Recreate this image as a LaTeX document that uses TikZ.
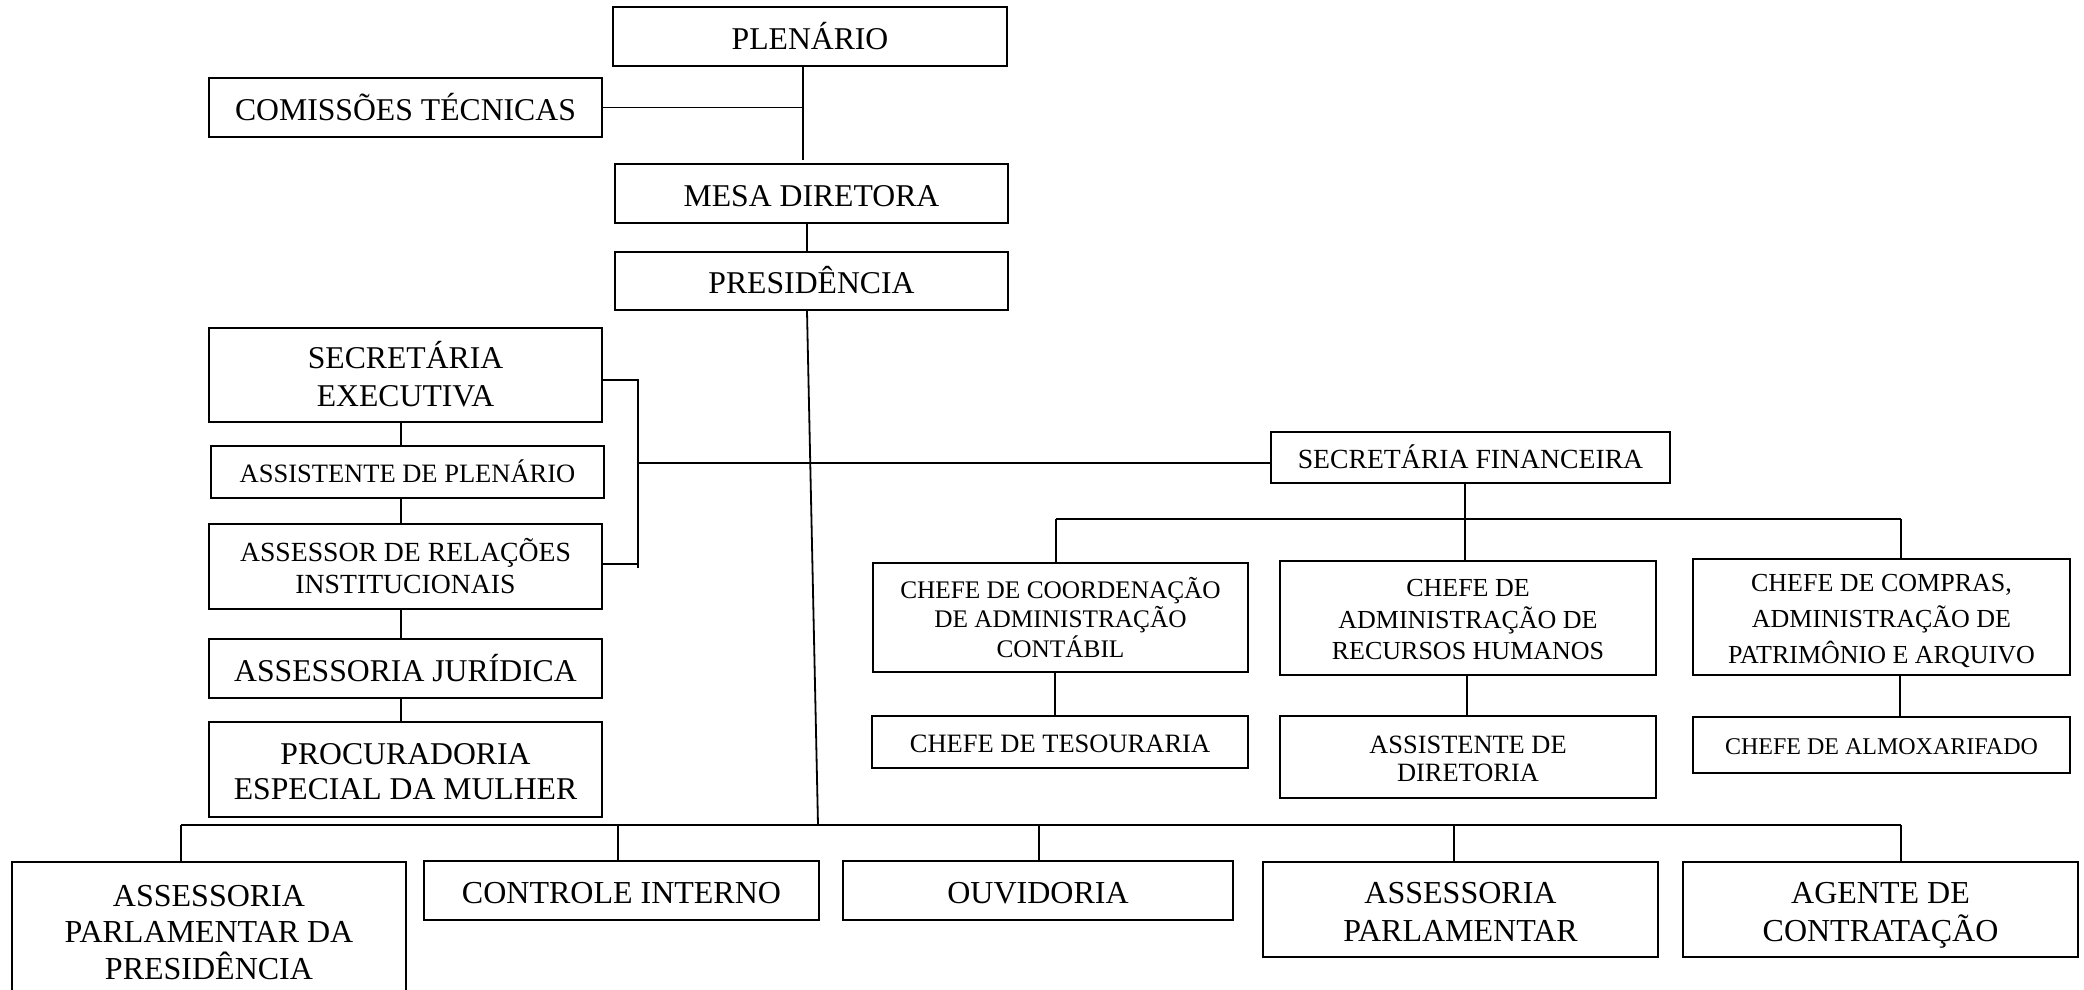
\documentclass[tikz,border=0pt]{standalone}
\usepackage{fontspec}
\setmainfont{Liberation Serif}
\newcommand\sm[1]{\smash{#1}}
\newcommand\cp{\rule{0pt}{0.8em}}
\tikzset{
  orgbox/.style={draw, line width=1.1pt, inner sep=0pt, align=center, text depth=0pt},
  conn/.style={line width=0.9pt}
}
% \bx{name}{x1}{y1}{x2}{y2}{font size}{baselineskip}{text}
\newcommand\bx[8]{\node[orgbox, minimum width={(#4-#2)*0.5pt}, minimum height={(#5-#3)*0.5pt},
  font=\fontsize{#6}{#7}\selectfont] (#1) at ({(#2+#4)/2},{(#3+#5)/2}) {#8};}
\begin{document}
\begin{tikzpicture}[x=0.5pt,y=-0.5pt]
\useasboundingbox (0,0) rectangle (2084,990);
\clip (0,0) rectangle (2084,990);
% top
\bx{plen}{613}{7}{1007}{66}{15.85pt}{18.5pt}{\cp\sm{PLENÁRIO}}
\bx{com}{209}{78}{602}{137}{15.85pt}{18.5pt}{\cp\sm{COMISSÕES TÉCNICAS}}
\bx{mesa}{615}{164}{1008}{223}{15.85pt}{18.5pt}{\cp\sm{MESA DIRETORA}}
\bx{pres}{615}{252}{1008}{310}{15.85pt}{18.5pt}{\cp\sm{PRESIDÊNCIA}}
% left column
\bx{secex}{209}{328}{602}{422}{15.85pt}{19.25pt}{\cp\sm{SECRETÁRIA}\\\sm{EXECUTIVA}}
\bx{assp}{211}{446}{604}{498}{13.25pt}{16pt}{\cp\sm{ASSISTENTE DE PLENÁRIO}}
\bx{assr}{209}{524}{602}{609}{13.85pt}{16pt}{\cp\sm{ASSESSOR DE RELAÇÕES}\\\sm{INSTITUCIONAIS}}
\bx{jur}{209}{639}{602}{698}{15.85pt}{18.5pt}{\cp\sm{ASSESSORIA JURÍDICA}}
\bx{proc}{209}{722}{602}{817}{15.85pt}{17.5pt}{\cp\sm{PROCURADORIA}\\\sm{ESPECIAL DA MULHER}}
% financial branch
\bx{sf}{1271}{432}{1670}{483}{13.85pt}{16pt}{\cp\sm{SECRETÁRIA FINANCEIRA}}
\bx{coord}{873}{563}{1248}{672}{12.65pt}{14.75pt}{\cp\sm{CHEFE DE COORDENAÇÃO}\\\sm{DE ADMINISTRAÇÃO}\\\sm{CONTÁBIL}}
\bx{rh}{1280}{561}{1656}{675}{13pt}{15.75pt}{\cp\sm{CHEFE DE}\\\sm{ADMINISTRAÇÃO DE}\\\sm{RECURSOS HUMANOS}}
\bx{comp}{1693}{559}{2070}{675}{13pt}{18pt}{\cp\sm{CHEFE DE COMPRAS,}\\\sm{ADMINISTRAÇÃO DE}\\\sm{PATRIMÔNIO E ARQUIVO}}
\bx{tes}{872}{716}{1248}{768}{13.25pt}{16pt}{\cp\sm{CHEFE DE TESOURARIA}}
\bx{assd}{1280}{716}{1656}{798}{13.2pt}{14.25pt}{\cp\sm{ASSISTENTE DE}\\\sm{DIRETORIA}}
\bx{almo}{1693}{717}{2070}{773}{12pt}{15pt}{\cp\sm{CHEFE DE ALMOXARIFADO}}
% bottom row
\bx{bA}{12}{862}{406}{998}{16pt}{18.25pt}{\cp\sm{ASSESSORIA}\\\sm{PARLAMENTAR DA}\\\sm{PRESIDÊNCIA}}
\bx{bB}{424}{861}{819}{920}{16pt}{18.5pt}{\cp\sm{CONTROLE INTERNO}}
\bx{bC}{843}{861}{1233}{920}{16pt}{18.5pt}{\cp\sm{OUVIDORIA}}
\bx{bD}{1263}{862}{1658}{957}{16pt}{19pt}{\cp\sm{ASSESSORIA}\\\sm{PARLAMENTAR}}
\bx{bE}{1683}{862}{2078}{957}{16pt}{19pt}{\cp\sm{AGENTE DE}\\\sm{CONTRATAÇÃO}}
% junction coordinates
\coordinate (j1) at (803,160);
\coordinate (j2) at (807,0);
\coordinate (jb) at (818,825);
\coordinate (jl) at (401,0);
\coordinate (br1) at (638,380);
\coordinate (br2) at (638,568);
\coordinate (br3) at (638,463);
\coordinate (f0) at (1465,519);
\coordinate (f1) at (1056,519);
\coordinate (f3) at (1901,519);
\coordinate (t1) at (1055,0);
\coordinate (t2) at (1467,0);
\coordinate (t3) at (1900,0);
\coordinate (d1) at (181,825);
\coordinate (d2) at (618,825);
\coordinate (d3) at (1039,825);
\coordinate (d4) at (1454,825);
\coordinate (d5) at (1901,825);
% top connectors
\draw[conn] (plen.south -| j1) -- (j1);
\draw[conn] (com.east) -- (com.east -| j1);
\draw[conn] (mesa.south -| j2) -- (pres.north -| j2);
\draw[conn] (pres.south -| j2) -- (jb);
% left column
\draw[conn] (secex.south -| jl) -- (assp.north -| jl);
\draw[conn] (assp.south -| jl) -- (assr.north -| jl);
\draw[conn] (assr.south -| jl) -- (jur.north -| jl);
\draw[conn] (jur.south -| jl) -- (proc.north -| jl);
% bracket to financial
\draw[conn] (secex.east |- br1) -- (br1) -- (br2);
\draw[conn] (assr.east |- 0,564) -- (br2 |- 0,564);
\draw[conn] (br3) -- (br3 -| sf.west);
% financial branch
\draw[conn] (sf.south -| f0) -- (rh.north -| f0);
\draw[conn] (f1) -- (f3);
\draw[conn] (f1) -- (coord.north -| f1);
\draw[conn] (f3) -- (comp.north -| f3);
\draw[conn] (coord.south -| t1) -- (tes.north -| t1);
\draw[conn] (rh.south -| t2) -- (assd.north -| t2);
\draw[conn] (comp.south -| t3) -- (almo.north -| t3);
% bottom bus
\draw[conn] (d1) -- (d5);
\draw[conn] (d1) -- (bA.north -| d1);
\draw[conn] (d2) -- (bB.north -| d2);
\draw[conn] (d3) -- (bC.north -| d3);
\draw[conn] (d4) -- (bD.north -| d4);
\draw[conn] (d5) -- (bE.north -| d5);
\end{tikzpicture}
\end{document}
